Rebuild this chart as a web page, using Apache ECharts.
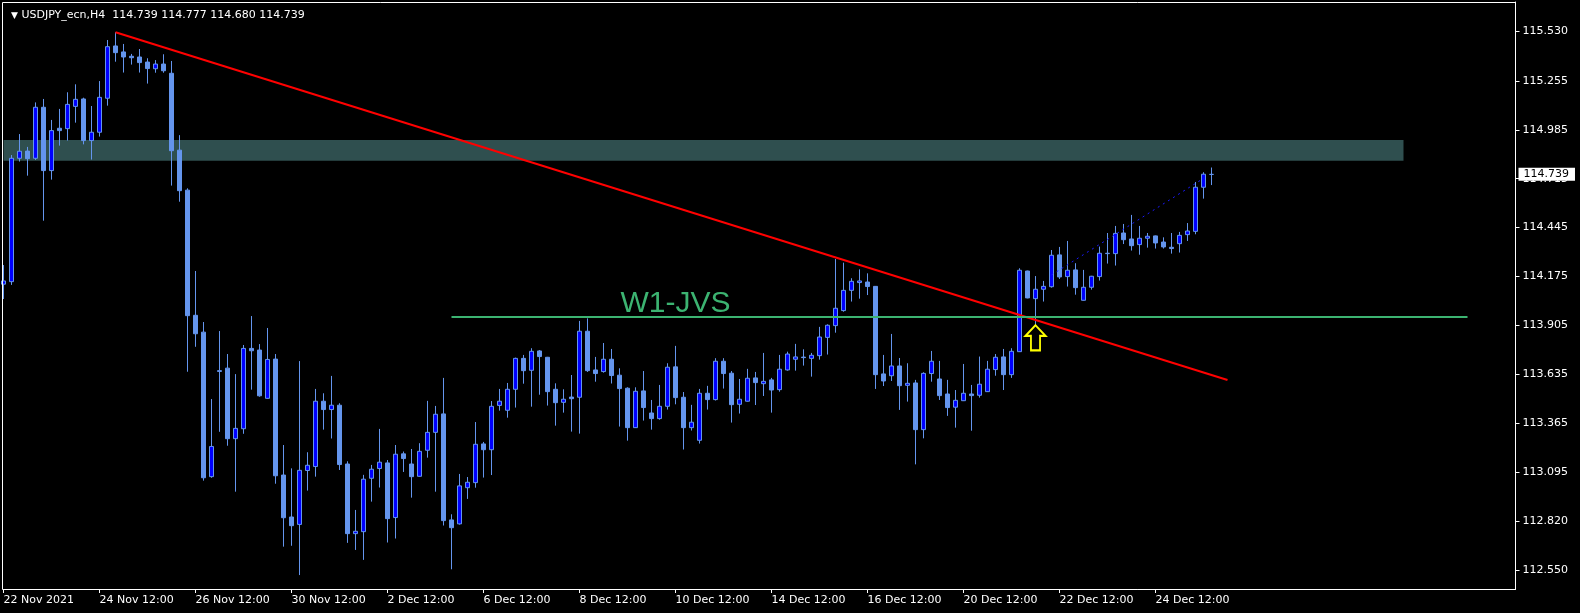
<!DOCTYPE html>
<html>
<head>
<meta charset="utf-8">
<script src="https://cdn.jsdelivr.net/npm/echarts@6/dist/echarts.min.js"></script>
<style>
html,body{margin:0;padding:0;background:#000;}
#chart{width:1580px;height:613px;}
</style>
</head>
<body>
<div id="chart"></div>
<script>
// ---- DATA (USDJPY_ecn, H4) ----
const symbolName = 'USDJPY_ecn,H4';
const opens = [
114.132,114.146,114.828,114.868,114.828,115.110,114.760,114.994,114.992,115.115,
115.156,114.926,114.972,115.160,115.449,115.416,115.392,115.388,115.360,115.323,
115.349,115.298,114.873,114.652,113.960,113.867,113.068,113.654,113.668,113.278,
113.333,113.777,113.768,113.501,113.718,113.077,112.845,112.804,113.102,113.124,
113.485,113.439,113.463,113.138,112.753,112.764,113.059,113.113,113.144,112.842,
113.194,113.138,113.070,113.214,113.313,113.415,112.829,112.807,113.007,113.035,
113.249,113.217,113.462,113.435,113.551,113.722,113.656,113.763,113.728,113.551,
113.479,113.508,113.507,113.872,113.658,113.649,113.717,113.629,113.557,113.339,
113.542,113.420,113.389,113.457,113.675,113.507,113.339,113.269,113.529,113.494,
113.706,113.640,113.468,113.485,113.614,113.582,113.603,113.549,113.658,113.717,
113.729,113.722,113.737,113.838,113.903,113.986,114.098,114.141,114.144,114.120,
113.636,113.626,113.680,113.573,113.586,113.328,113.638,113.608,113.525,113.452,
113.488,113.525,113.518,113.538,113.660,113.730,113.632,113.759,114.205,114.052,
114.104,114.118,114.294,114.174,114.211,114.043,114.115,114.174,114.303,114.301,
114.415,114.382,114.351,114.386,114.399,114.365,114.336,114.356,114.406,114.424,
114.668,114.739
];
const highs = [
114.238,114.846,114.962,114.891,115.137,115.156,115.040,115.101,115.193,115.237,
115.163,115.117,115.255,115.482,115.525,115.460,115.405,115.432,115.381,115.371,
115.403,115.366,114.956,114.662,114.205,113.923,113.497,113.873,113.746,113.635,
113.796,113.956,113.801,113.890,113.746,113.243,113.114,113.707,113.203,113.553,
113.529,113.625,113.474,113.153,112.884,113.078,113.133,113.332,113.160,113.243,
113.207,113.221,113.253,113.487,113.459,113.614,112.860,113.083,113.066,113.370,
113.260,113.486,113.553,113.586,113.726,113.741,113.778,113.768,113.730,113.584,
113.551,113.630,113.929,113.943,113.730,113.807,113.774,113.667,113.562,113.562,
113.652,113.492,113.575,113.695,113.791,113.536,113.465,113.553,113.570,113.723,
113.723,113.652,113.608,113.664,113.647,113.752,113.614,113.741,113.759,113.802,
113.772,113.752,113.896,113.910,114.271,114.251,114.165,114.214,114.192,114.122,
113.741,113.857,113.724,113.695,113.603,113.645,113.763,113.708,113.603,113.547,
113.691,113.575,113.732,113.708,113.746,113.774,113.778,114.220,114.207,114.177,
114.150,114.321,114.338,114.371,114.248,114.211,114.178,114.340,114.415,114.454,
114.465,114.515,114.454,114.415,114.401,114.391,114.415,114.421,114.470,114.697,
114.751,114.777
];
const lows = [
114.050,114.128,114.810,114.732,114.819,114.483,114.710,114.898,114.926,115.025,
114.905,114.821,114.948,115.119,115.362,115.302,115.346,115.302,115.241,115.301,
115.301,114.677,114.588,113.648,113.786,113.046,113.062,113.316,113.239,112.985,
113.305,113.549,113.510,113.499,113.029,112.681,112.686,112.524,112.991,113.068,
113.328,113.279,113.105,112.702,112.663,112.608,112.930,113.008,112.704,112.726,
113.094,112.952,113.068,113.173,112.985,112.798,112.556,112.803,112.945,113.007,
113.063,113.077,113.433,113.394,113.450,113.582,113.455,113.521,113.461,113.350,
113.422,113.317,113.306,113.647,113.593,113.643,113.583,113.345,113.267,113.337,
113.378,113.328,113.383,113.439,113.468,113.218,113.323,113.251,113.439,113.489,
113.555,113.367,113.417,113.483,113.464,113.514,113.422,113.538,113.654,113.654,
113.682,113.621,113.715,113.743,113.864,113.980,114.036,114.052,114.072,113.553,
113.569,113.597,113.437,113.483,113.136,113.280,113.593,113.492,113.404,113.339,
113.486,113.322,113.505,113.536,113.626,113.547,113.614,113.757,114.054,113.905,
114.036,114.113,114.161,114.119,114.074,114.041,114.102,114.152,114.246,114.235,
114.354,114.318,114.295,114.334,114.329,114.329,114.301,114.307,114.371,114.408,
114.605,114.680
];
const closes = [
114.150,114.828,114.867,114.826,115.110,114.760,114.981,114.981,115.126,115.154,
114.926,114.972,115.165,115.445,115.412,115.388,115.384,115.357,115.324,115.349,
115.312,114.870,114.649,113.958,113.858,113.062,113.235,113.650,113.278,113.335,
113.777,113.764,113.515,113.716,113.073,112.841,112.797,113.103,113.131,113.485,
113.439,113.463,113.135,112.753,112.766,113.054,113.109,113.148,112.836,113.192,
113.168,113.068,113.208,113.313,113.413,112.825,112.786,113.017,113.037,113.247,
113.217,113.457,113.485,113.551,113.722,113.654,113.761,113.732,113.538,113.477,
113.496,113.499,113.872,113.654,113.638,113.717,113.627,113.555,113.339,113.540,
113.450,113.389,113.457,113.673,113.505,113.339,113.369,113.529,113.494,113.706,
113.638,113.466,113.496,113.612,113.588,113.595,113.547,113.662,113.746,113.730,
113.726,113.739,113.840,113.905,113.999,114.098,114.148,114.150,114.119,113.632,
113.597,113.680,113.571,113.584,113.328,113.639,113.706,113.516,113.450,113.490,
113.529,113.516,113.579,113.662,113.728,113.632,113.761,114.209,114.056,114.104,
114.120,114.292,114.172,114.209,114.113,114.115,114.176,114.303,114.301,114.413,
114.378,114.345,114.386,114.397,114.360,114.338,114.329,114.402,114.426,114.668,
114.740,114.739
];
// first H4 bar shown and number of bar slots across the window (incl. empty shift area)
const firstBarUTC = Date.UTC(2021, 10, 22, 12, 0);
const slotCount = 190;
const labelEvery = 12;
const yTickValues = [115.530,115.255,114.985,114.715,114.445,114.175,113.905,113.635,113.365,113.095,112.820,112.550];
const zoneTop = 114.929, zoneBottom = 114.815;           // shaded rectangle
const trendStart = [14, 115.525], trendEnd = [153, 113.602]; // red trendline
const levelPrice = 113.952, levelFrom = 56, levelTo = 183;   // W1-JVS level
const levelLabel = 'W1-JVS', levelLabelAt = [84, 114.025];
const dotStart = [131, 114.183], dotEnd = [150, 114.717];    // blue dotted line
const arrowAt = [129, 113.905];                               // yellow arrow

// ---- categories (H4 bars, weekends skipped) ----
const MONTHS = ['Jan','Feb','Mar','Apr','May','Jun','Jul','Aug','Sep','Oct','Nov','Dec'];
const categories = [];
(function(){
  let t = firstBarUTC;
  while (categories.length < slotCount) {
    const d = new Date(t);
    const wd = d.getUTCDay();
    if (wd !== 0 && wd !== 6) {
      const hh = String(d.getUTCHours()).padStart(2,'0');
      const mm = String(d.getUTCMinutes()).padStart(2,'0');
      categories.push(categories.length === 0
        ? d.getUTCDate() + ' ' + MONTHS[d.getUTCMonth()] + ' ' + d.getUTCFullYear()
        : d.getUTCDate() + ' ' + MONTHS[d.getUTCMonth()] + ' ' + hh + ':' + mm);
    }
    t += 4 * 3600 * 1000;
  }
})();

const candleData = opens.map((o, i) => [o, closes[i], lows[i], highs[i]]);
const n = opens.length;
const last = n - 1;
const fmt = v => Number(v).toFixed(3);
const showIdx = (idx) => idx % labelEvery === 0 && idx < n;

const chart = echarts.init(document.getElementById('chart'), null, {renderer: 'canvas'});
const FONT = 'DejaVu Sans';

chart.setOption({
  backgroundColor: '#000000',
  animation: false,
  title: {
    left: 6, top: 5,
    text: '{tri|▼} ' + symbolName + '  ' + [opens[last], highs[last], lows[last], closes[last]].map(fmt).join(' '),
    textStyle: {
      color: '#ffffff', fontSize: 11, fontFamily: FONT, fontWeight: 'normal',
      rich: { tri: { fontSize: 9, color: '#ffffff', fontFamily: FONT } }
    }
  },
  graphic: [{
    type: 'rect', silent: true, z: 100,
    shape: { x: 2.5, y: 2.5, width: 1513, height: 587 },
    style: { fill: 'transparent', stroke: '#ffffff', lineWidth: 1 }
  }],
  grid: {
    left: 3.5, top: 2, width: 1512, height: 587,
    containLabel: false, outerBoundsMode: 'none'
  },
  xAxis: {
    type: 'category',
    data: categories,
    boundaryGap: false,
    axisLine: { show: true, lineStyle: { color: '#ffffff', width: 1 } },
    axisTick: { show: true, interval: showIdx, length: 4, lineStyle: { color: '#ffffff' } },
    axisLabel: {
      show: true, interval: showIdx, align: 'left', margin: 6,
      color: '#ffffff', fontSize: 11, fontFamily: FONT,
      hideOverlap: false
    },
    splitLine: { show: false }
  },
  yAxis: {
    type: 'value',
    position: 'right',
    min: 112.447, max: 115.692,
    scale: true,
    axisLine: { show: true, lineStyle: { color: '#ffffff', width: 1 } },
    axisTick: { show: true, length: 4, customValues: yTickValues, lineStyle: { color: '#ffffff' } },
    axisLabel: {
      show: true, customValues: yTickValues, margin: 7,
      color: '#ffffff', fontSize: 11, fontFamily: FONT,
      formatter: v => fmt(v)
    },
    splitLine: { show: false }
  },
  series: [{
    type: 'candlestick',
    data: candleData,
    barWidth: 4,
    clip: false,
    silent: true,
    z: 2,
    itemStyle: {
      color: '#0000ff', color0: '#6495ed',
      borderColor: '#6495ed', borderColor0: '#6495ed', borderColorDoji: '#6495ed',
      borderWidth: 1
    },
    markArea: {
      silent: true,
      z: 1,
      itemStyle: { color: '#2f4f4f', opacity: 1 },
      data: [[ { coord: [0, zoneTop] }, { coord: [175, zoneBottom] } ]]
    },
    markLine: {
      silent: true,
      symbol: ['none', 'none'],
      animation: false,
      z: 5,
      data: [
        [ { coord: trendStart, lineStyle: { color: '#ff0000', width: 2, type: 'solid' }, label: { show: false } },
          { coord: trendEnd } ],
        [ { coord: [levelFrom, levelPrice], lineStyle: { color: '#3cb371', width: 2, type: 'solid' }, label: { show: false } },
          { coord: [levelTo, levelPrice] } ],
        [ { coord: dotStart, lineStyle: { color: '#1a1aff', width: 1, type: [2, 4] }, label: { show: false } },
          { coord: dotEnd } ]
      ]
    },
    markPoint: {
      silent: true,
      animation: false,
      z: 6,
      data: [
        { coord: levelLabelAt, symbol: 'rect', symbolSize: 0,
          label: { show: true, position: 'inside', formatter: levelLabel,
                   color: '#3cb371', fontSize: 30, fontFamily: 'Liberation Sans' } },
        { coord: arrowAt,
          symbol: 'path://M11,0L22,11L16,11L16,26L6,26L6,11L0,11Z',
          symbolSize: [20, 25], symbolOffset: [0, '50%'], symbolKeepAspect: false,
          itemStyle: { color: '#000000', borderColor: '#ffff00', borderWidth: 2 },
          label: { show: false } }
      ]
    }
  }, {
    // current bid price tag on the price scale
    type: 'line',
    data: [],
    silent: true,
    z: 10,
    markLine: {
      silent: true,
      symbol: ['none', 'none'],
      animation: false,
      z: 10,
      lineStyle: { color: 'rgba(0,0,0,0)', width: 1, type: 'solid' },
      data: [{
        yAxis: closes[last],
        label: {
          show: true, position: 'end', distance: 3,
          formatter: () => fmt(closes[last]),
          backgroundColor: '#ffffff', color: '#000000',
          fontSize: 11, fontFamily: FONT, padding: [1, 6, 0, 5], lineHeight: 12
        }
      }]
    }
  }]
});
</script>
</body>
</html>
